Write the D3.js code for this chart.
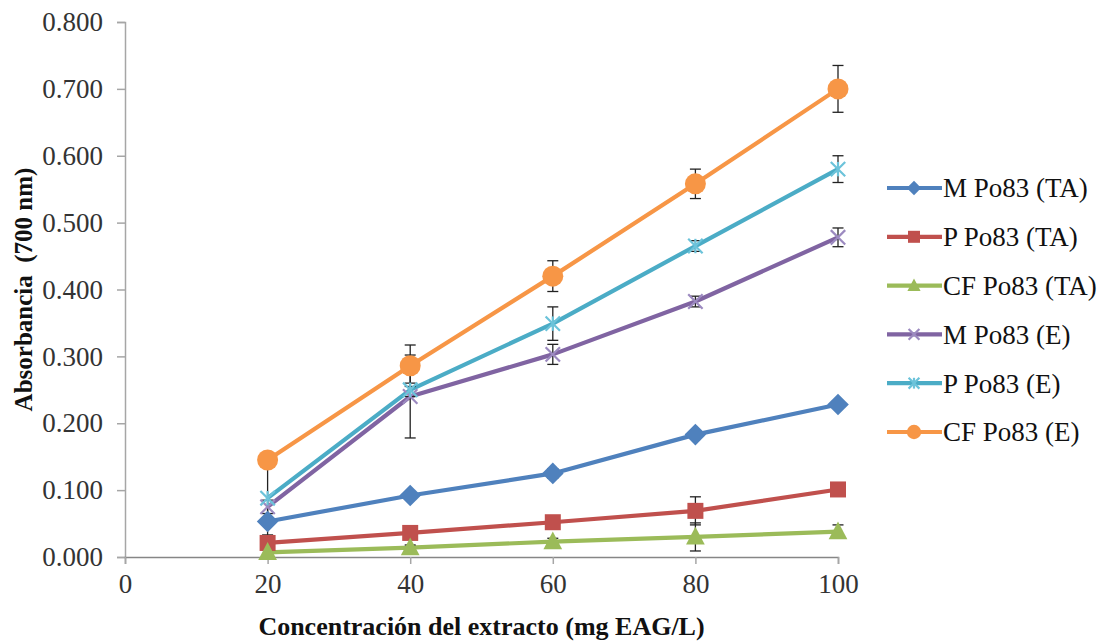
<!DOCTYPE html>
<html>
<head>
<meta charset="utf-8">
<script src="https://cdn.jsdelivr.net/npm/d3@7/dist/d3.min.js"></script>
<style>
  html, body { margin: 0; padding: 0; background: #fff; }
  svg { display: block; }
</style>
</head>
<body>
<svg id="chart" width="1107" height="641"></svg>
<script>
// ---- Data ----
const xValues = [20, 40, 60, 80, 100];
const seriesNames = ["M Po83 (TA)", "P Po83 (TA)", "CF Po83 (TA)", "M Po83 (E)", "P Po83 (E)", "CF Po83 (E)"];
const mTA  = [0.053, 0.092, 0.125, 0.183, 0.228];
const pTA  = [0.021, 0.036, 0.052, 0.069, 0.101];
const cfTA = [0.007, 0.014, 0.023, 0.030, 0.038];
const mE   = [0.075, 0.240, 0.303, 0.382, 0.478];
const pE   = [0.088, 0.250, 0.349, 0.465, 0.580];
const cfE  = [0.145, 0.286, 0.420, 0.558, 0.700];
const errMTA  = [0.005, 0.005, 0.007, 0.005, 0.005];
const errPTA  = [0.005, 0.005, 0.005, 0.021, 0.005];
const errCFTA = [0.004, 0.004, 0.005, 0.021, 0.010];
const errME   = [0.010, 0.062, 0.015, 0.008, 0.014];
const errPE   = [0.055, 0.010, 0.025, 0.008, 0.020];
const errCFE  = [0.005, 0.031, 0.023, 0.022, 0.035];
const xTicks = [0, 20, 40, 60, 80, 100];
const yTicks = [0, 0.1, 0.2, 0.3, 0.4, 0.5, 0.6, 0.7, 0.8];
const xTitle = "Concentración del extracto (mg EAG/L)";
const yTitle = "Absorbancia  (700 nm)";

const seriesValues = [mTA, pTA, cfTA, mE, pE, cfE];
const seriesErrors = [errMTA, errPTA, errCFTA, errME, errPE, errCFE];
const colors = ["#4F81BD", "#C0504D", "#9BBB59", "#8064A2", "#4BACC6", "#F79646"];
const markerColors = ["#4F81BD", "#C0504D", "#9BBB59", "#9C8AC0", "#6CC3DA", "#F79646"];
const markers = ["diamond", "square", "triangle", "x", "star", "circle"];

const series = seriesNames.map((name, i) => ({
  name, color: colors[i], mcolor: markerColors[i], marker: markers[i],
  points: xValues.map((x, j) => ({ x, y: seriesValues[i][j], e: seriesErrors[i][j] }))
}));

// ---- Layout ----
const svg = d3.select("#chart");
const font = "'Liberation Serif', 'Times New Roman', serif";
const x = d3.scaleLinear().domain([0, 100]).range([125, 838]);
const y = d3.scaleLinear().domain([0, 0.8]).range([557, 22]);

// Y axis
const yAxis = d3.axisLeft(y).tickValues(yTicks).tickFormat(d3.format(".3f")).tickSize(8).tickPadding(14);
const gy = svg.append("g").attr("transform", `translate(${x(0)},0)`).call(yAxis);
gy.select(".domain").attr("stroke", "#A6A6A6").attr("stroke-width", 1.5);
gy.selectAll(".tick line").attr("stroke", "#A6A6A6").attr("stroke-width", 1.5);
gy.selectAll(".tick text").attr("font-family", font).attr("font-size", 27).attr("fill", "#333");

// X axis
const xAxis = d3.axisBottom(x).tickValues(xTicks).tickFormat(d3.format("d")).tickSize(7).tickPadding(10);
const gx = svg.append("g").attr("transform", `translate(0,${y(0)})`).call(xAxis);
gx.select(".domain").attr("stroke", "#868686").attr("stroke-width", 1.5);
gx.selectAll(".tick line").attr("stroke", "#A6A6A6").attr("stroke-width", 1.5);
gx.selectAll(".tick text").attr("font-family", font).attr("font-size", 27).attr("fill", "#333");

// Titles
svg.append("text").attr("x", (x(0) + x(100)) / 2).attr("y", 635)
  .attr("text-anchor", "middle").attr("font-family", font).attr("font-weight", "bold")
  .attr("font-size", 26).attr("fill", "#111").text(xTitle);
svg.append("text").attr("transform", `translate(32,${(y(0) + y(0.8)) / 2}) rotate(-90)`)
  .attr("text-anchor", "middle").attr("font-family", font).attr("font-weight", "bold")
  .attr("font-size", 25).attr("fill", "#111").attr("xml:space", "preserve")
  .style("white-space", "pre").text(yTitle);

// Marker drawing
function drawMarker(g, type, fill, size) {
  const s = size;
  if (type === "diamond") {
    g.append("path").attr("d", `M0,${-s*0.6}L${s*0.6},0L0,${s*0.6}L${-s*0.6},0Z`).attr("fill", fill);
  } else if (type === "square") {
    g.append("rect").attr("x", -s/2).attr("y", -s/2).attr("width", s).attr("height", s).attr("fill", fill);
  } else if (type === "triangle") {
    g.append("path").attr("d", `M0,${-s*0.6}L${s*0.55},${s*0.45}L${-s*0.55},${s*0.45}Z`).attr("fill", fill);
  } else if (type === "circle") {
    g.append("circle").attr("r", s * 0.6).attr("fill", fill);
  } else if (type === "x" || type === "star") {
    const h = s * 0.45;
    g.append("path").attr("d", `M${-h},${-h}L${h},${h}M${-h},${h}L${h},${-h}`)
      .attr("stroke", fill).attr("stroke-width", 2.2).attr("fill", "none");
    if (type === "star") {
      g.append("path").attr("d", `M0,${-h}L0,${h}`).attr("stroke", fill).attr("stroke-width", 2.2);
    }
  }
}

const line = d3.line().x(d => x(d.x)).y(d => y(d.y));
const plot = svg.append("g");

// Lines
series.forEach(s => {
  plot.append("path").datum(s.points).attr("d", line).attr("fill", "none")
    .attr("stroke", s.color).attr("stroke-width", 4.2).attr("stroke-linejoin", "round");
});

// Error bars
series.forEach(s => {
  const g = plot.append("g").attr("stroke", "#222").attr("stroke-width", 1.3);
  s.points.forEach(p => {
    const cx = x(p.x), y1 = y(p.y + p.e), y2 = y(p.y - p.e);
    g.append("line").attr("x1", cx).attr("x2", cx).attr("y1", y1).attr("y2", y2);
    g.append("line").attr("x1", cx - 5.5).attr("x2", cx + 5.5).attr("y1", y1).attr("y2", y1);
    g.append("line").attr("x1", cx - 5.5).attr("x2", cx + 5.5).attr("y1", y2).attr("y2", y2);
  });
});

// Markers
const mSizes = { diamond: 18, square: 16, triangle: 17, x: 16, star: 16, circle: 17.5 };
series.forEach(s => {
  s.points.forEach(p => {
    const g = plot.append("g").attr("transform", `translate(${x(p.x)},${y(p.y)})`);
    drawMarker(g, s.marker, s.mcolor, mSizes[s.marker]);
  });
});

// Legend
const legendY = d3.scaleLinear().domain([0, 5]).range([188, 432]);
series.forEach((s, i) => {
  const ly = legendY(i);
  const g = svg.append("g");
  g.append("line").attr("x1", 887).attr("x2", 942).attr("y1", ly).attr("y2", ly)
    .attr("stroke", s.color).attr("stroke-width", 4.2);
  const mg = g.append("g").attr("transform", `translate(914,${ly})`);
  drawMarker(mg, s.marker, s.mcolor, 12);
  g.append("text").attr("x", 943).attr("y", ly).attr("dy", "0.35em")
    .attr("font-family", font).attr("font-size", 27).attr("fill", "#111").text(s.name);
});
</script>
</body>
</html>
